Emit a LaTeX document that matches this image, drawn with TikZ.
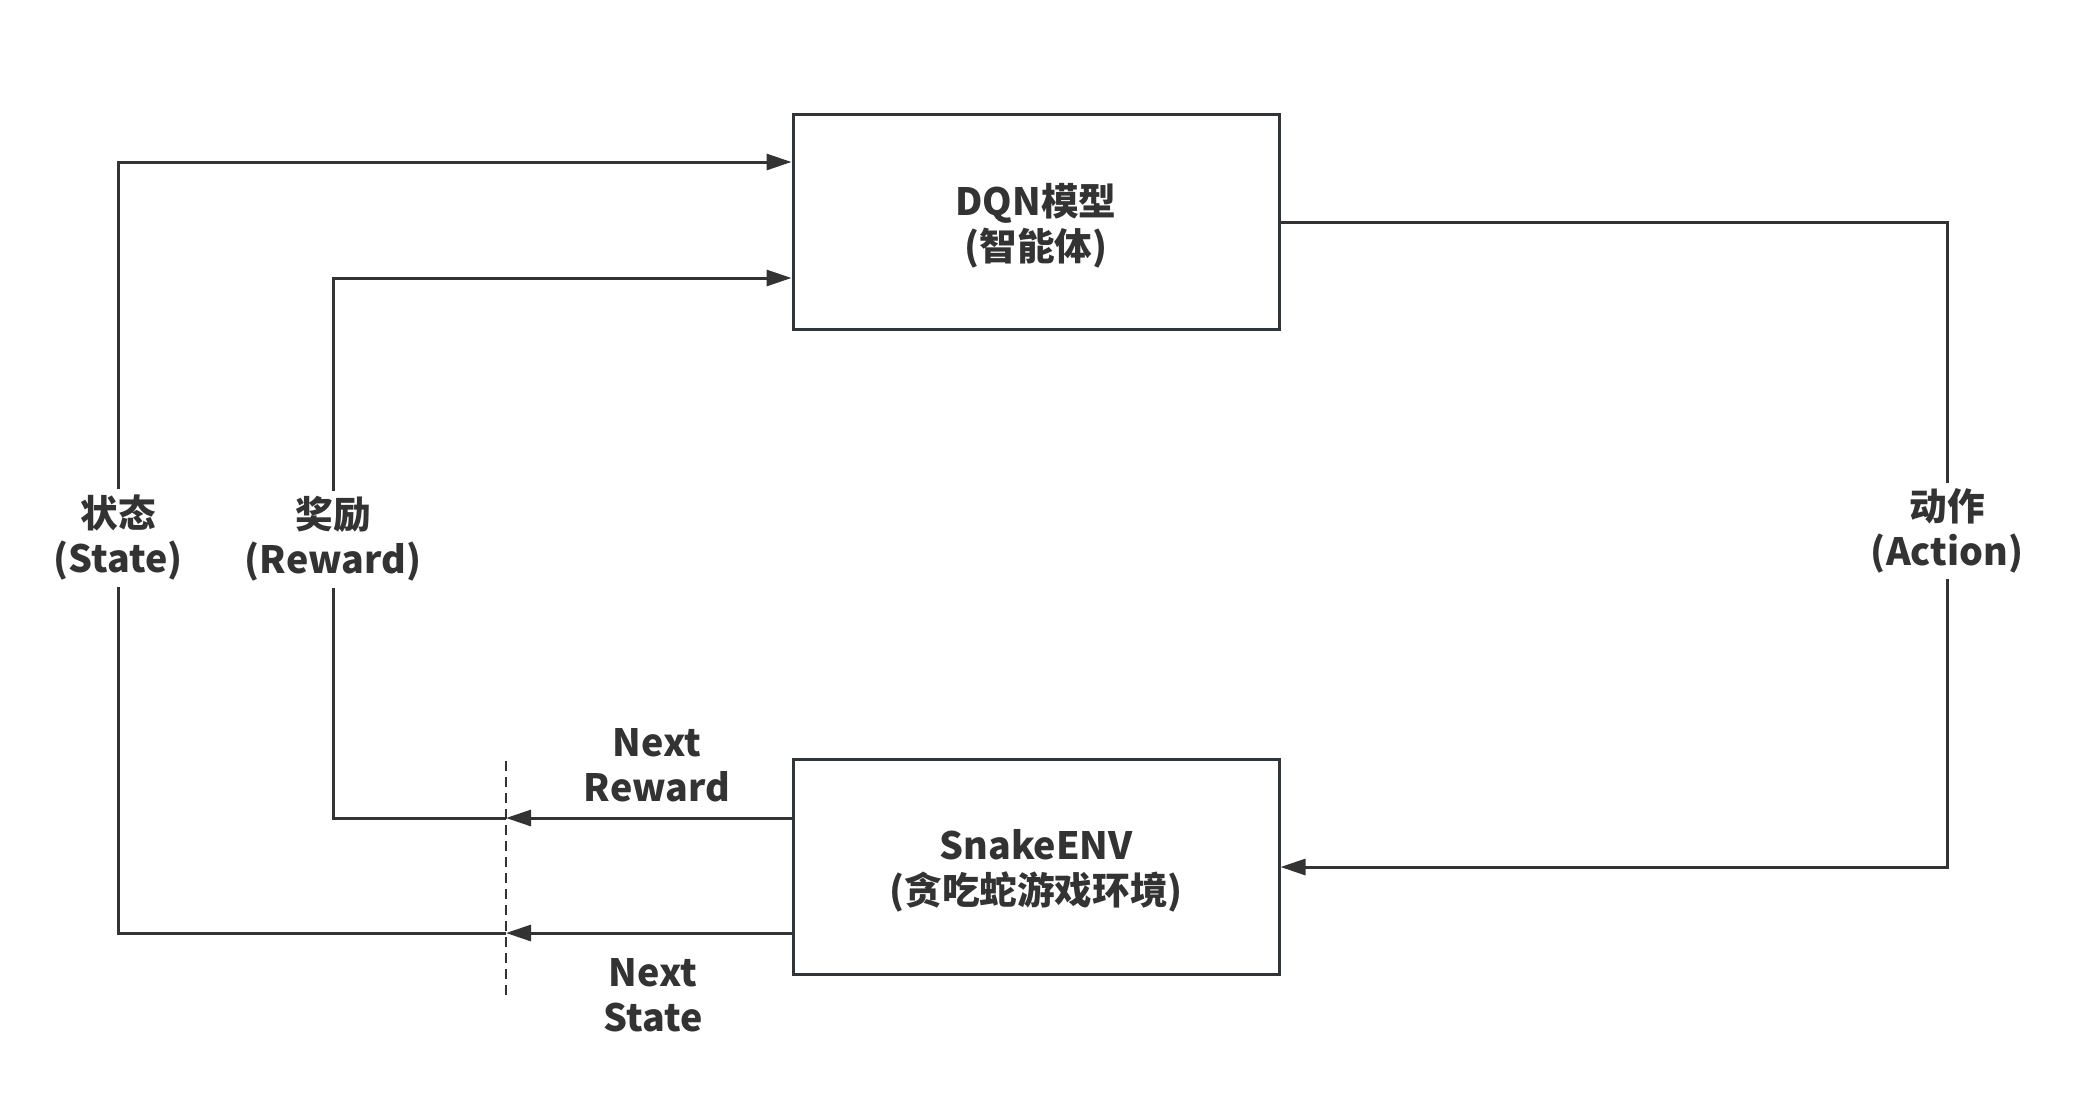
\documentclass[tikz,border=0pt]{standalone}
\usepackage{fontspec}
\setmainfont{Noto Sans CJK SC}
\usetikzlibrary{arrows.meta}
\definecolor{ink}{HTML}{333333}
\definecolor{boxline}{HTML}{2F3538}
\tikzset{
  txt/.style={text=ink, align=center, font=\bfseries\fontsize{18.8}{22.5}\selectfont},
  box/.style={draw=boxline, line width=1.5pt, minimum width=243pt, minimum height=107.5pt, inner sep=0pt},
  boxtext/.style={txt, inner sep=0pt},
  conn/.style={draw=ink, line width=1.5pt},
  arr/.style={conn, -{Triangle[length=12.5pt,width=8pt]}},
  lbl/.style={txt, fill=white, inner sep=3pt},
  freelbl/.style={txt, inner sep=0pt},
  cutline/.style={draw=ink, line width=1.2pt, dash pattern=on 5pt off 3pt}
}
\begin{document}
\begin{tikzpicture}[x=0.5pt,y=-0.5pt]
\useasboundingbox (0,0) rectangle (2082,1093);
\node[box] (dqn) at (1036,221.5) {};
\node[box] (env) at (1036,867) {};
\node[boxtext] (dqnt) at ([yshift=-2pt]dqn.center) {DQN模型\\(智能体)};
\node[boxtext] (envt) at ([yshift=-2pt]env.center) {SnakeENV\\(贪吃蛇游戏环境)};
% cut line
\coordinate (cutT) at (506,761);
\coordinate (cutB) at (506,1000);
\draw[cutline] (cutT) -- (cutB);
\coordinate (rcut) at (506,818);
\coordinate (scut) at (506,933);
\coordinate (sx) at (118,933);
\coordinate (sy) at (118,162);
\coordinate (rx) at (333,818);
\coordinate (ry) at (333,278);
\coordinate (ax) at (1947,222);
\coordinate (ay) at (1947,867);
% next reward / next state
\draw[arr] (env.west |- rcut) -- (rcut);
\draw[arr] (env.west |- scut) -- (scut);
% state loop
\draw[arr] (scut) -- (sx) -- (sy) -- (dqn.west |- sy);
% reward loop
\draw[arr] (rcut) -- (rx) -- (ry) -- (dqn.west |- ry);
% action loop
\draw[arr] (dqn.east |- ax) -- (ax) -- (ay) -- (env.east |- ay);
% labels
\node[lbl] (lstate) at (118,538) {状态\\(State)};
\node[lbl] (lreward) at (333,539) {奖励\\(Reward)};
\node[lbl] (laction) at (1947,531) {动作\\(Action)};
\node[freelbl] (lnr) at (657,765) {Next\\Reward};
\node[freelbl] (lns) at (653,995) {Next\\State};
\end{tikzpicture}
\end{document}
